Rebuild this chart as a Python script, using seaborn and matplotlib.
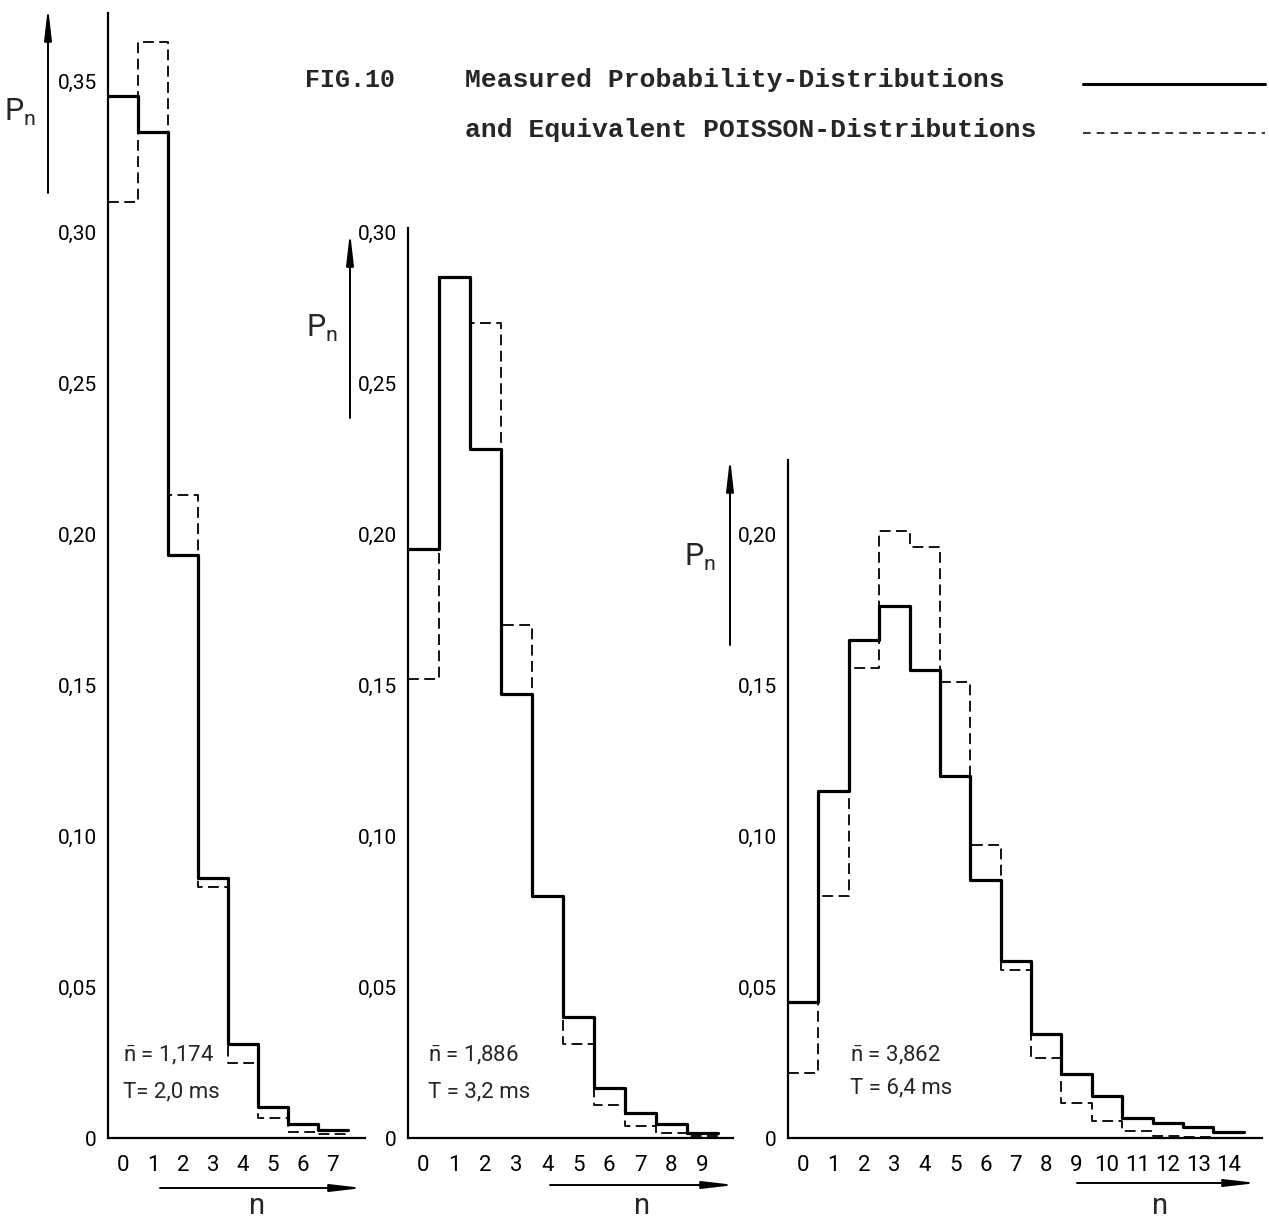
import matplotlib
matplotlib.use("Agg")
import matplotlib.pyplot as plt
from matplotlib.lines import Line2D
from matplotlib.patches import FancyArrowPatch
import pandas as pd
import seaborn as sns

# FIG.10: measured probability distributions (solid) and Poisson equivalents (dashed)
n_a = [0, 1, 2, 3, 4, 5, 6, 7]
measured_a = [0.345, 0.333, 0.193, 0.086, 0.031, 0.0103, 0.0046, 0.0026]
poisson_a = [0.310, 0.363, 0.213, 0.083, 0.0248, 0.0066, 0.0020, 0.0013]

n_b = [0, 1, 2, 3, 4, 5, 6, 7, 8, 9]
measured_b = [0.195, 0.285, 0.228, 0.147, 0.080, 0.040, 0.0165, 0.0083, 0.0045, 0.0017]
poisson_b = [0.152, 0.285, 0.270, 0.170, 0.080, 0.031, 0.011, 0.004, 0.0017, 0.0006]

n_c = [0, 1, 2, 3, 4, 5, 6, 7, 8, 9, 10, 11, 12, 13, 14]
measured_c = [0.045, 0.115, 0.165, 0.176, 0.155, 0.120, 0.0854, 0.0586, 0.0344, 0.0212,
              0.0139, 0.0066, 0.0049, 0.0037, 0.002]
poisson_c = [0.0215, 0.080, 0.1556, 0.201, 0.1957, 0.151, 0.097, 0.0556, 0.0265, 0.0116,
             0.0056, 0.0022, 0.0008, 0.0003, 0.0001]

yticks_a = [0, 0.05, 0.10, 0.15, 0.20, 0.25, 0.30, 0.35]
yticks_b = [0, 0.05, 0.10, 0.15, 0.20, 0.25, 0.30]
yticks_c = [0, 0.05, 0.10, 0.15, 0.20]

mean_labels = ["1,174", "1,886", "3,862"]
time_labels = ["T= 2,0 ms", "T = 3,2 ms", "T = 6,4 ms"]

W, H = 1269, 1220
PX_PER_UNIT = 3020   # vertical scale shared by all three panels
ZERO_ROW = 1138

sns.set_style("white")
plt.rcParams["font.family"] = ["Roboto", "DejaVu Sans"]
plt.rcParams["mathtext.fontset"] = "dejavusans"

fig = plt.figure(figsize=(W / 100, H / 100), dpi=100)


def fx(x):
    return x / W


def fy(y):
    return 1 - y / H


def ylabel_fmt(v):
    return "0" if v == 0 else f"{v:.2f}".replace(".", ",")


def panel(n, measured, poisson, yticks, left, right, top, xmax):
    ax = fig.add_axes([fx(left), fy(ZERO_ROW), (right - left) / W, (ZERO_ROW - top) / H])
    df = pd.DataFrame({"n": n, "measured": measured, "poisson": poisson})
    sns.histplot(data=df, x="n", weights="poisson", discrete=True, element="step",
                 fill=False, color="black", linewidth=1.3, linestyle=(0, (6, 3)), ax=ax)
    sns.histplot(data=df, x="n", weights="measured", discrete=True, element="step",
                 fill=False, color="black", linewidth=2.3, ax=ax)
    ax.set_xlim(-0.5, xmax)
    ax.set_ylim(0, (ZERO_ROW - top) / PX_PER_UNIT)
    ax.set_xticks(n)
    ax.set_xticklabels([str(v) for v in n])
    ax.set_yticks(yticks)
    ax.set_yticklabels([ylabel_fmt(v) for v in yticks])
    ax.set_xlabel("")
    ax.set_ylabel("")
    ax.tick_params(axis="both", direction="in", length=11, width=1.1, colors="black")
    ax.tick_params(axis="y", pad=8, labelsize=15)
    ax.tick_params(axis="x", pad=12, labelsize=16)
    sns.despine(ax=ax)
    for s in ["left", "bottom"]:
        ax.spines[s].set_linewidth(1.6)
        ax.spines[s].set_color("black")
    return ax


panel(n_a, measured_a, poisson_a, yticks_a, 108, 365, 13, 8.07)
panel(n_b, measured_b, poisson_b, yticks_b, 408, 733, 228, 10.0)
panel(n_c, measured_c, poisson_c, yticks_c, 788, 1262, 460, 15.1)


def arrow(x0, y0, x1, y1):
    fig.add_artist(FancyArrowPatch(
        (fx(x0), fy(y0)), (fx(x1), fy(y1)), transform=fig.transFigure,
        arrowstyle="-|>,head_length=1.9,head_width=0.22", mutation_scale=10,
        color="black", lw=1.4, shrinkA=0, shrinkB=0))


# axis arrows with P_n and n labels
for x, y_tail, y_head, lx, ly in [(48, 193, 7, 20, 112), (350, 418, 232, 322, 328),
                                  (730, 645, 458, 700, 557)]:
    arrow(x, y_tail, x, y_head)
    fig.text(fx(lx), fy(ly), r"$\mathregular{P_n}$", fontsize=22, ha="center", va="center")

for y, x_tail, x_head, lx in [(1188, 160, 363, 257), (1185, 550, 735, 642),
                              (1183, 1077, 1257, 1160)]:
    arrow(x_tail, y, x_head, y)
    fig.text(fx(lx), fy(1214), "n", fontsize=21, ha="center", va="baseline")

# mean / gate-time annotations
for x, y1, y2, m, t in zip([123, 428, 850], [1055, 1055, 1055], [1092, 1092, 1088],
                           mean_labels, time_labels):
    fig.text(fx(x), fy(y1), r"$\mathregular{\bar{n}}$ = " + m, fontsize=16, va="center")
    fig.text(fx(x), fy(y2), t, fontsize=16, va="center")

# title and line key
mono = dict(family="Liberation Mono", weight="bold", va="center")
fig.text(fx(305), fy(80), "FIG.10", fontsize=18, **mono)
fig.text(fx(465), fy(80), "Measured Probability-Distributions", fontsize=19, **mono)
fig.text(fx(465), fy(130), "and Equivalent POISSON-Distributions", fontsize=19, **mono)
fig.add_artist(Line2D([fx(1083), fx(1265)], [fy(84), fy(84)], transform=fig.transFigure,
                      color="black", lw=2.2))
fig.add_artist(Line2D([fx(1083), fx(1265)], [fy(133), fy(133)], transform=fig.transFigure,
                      color="black", lw=1.1, dashes=(5, 4)))

fig.savefig("out.png", dpi=100)
